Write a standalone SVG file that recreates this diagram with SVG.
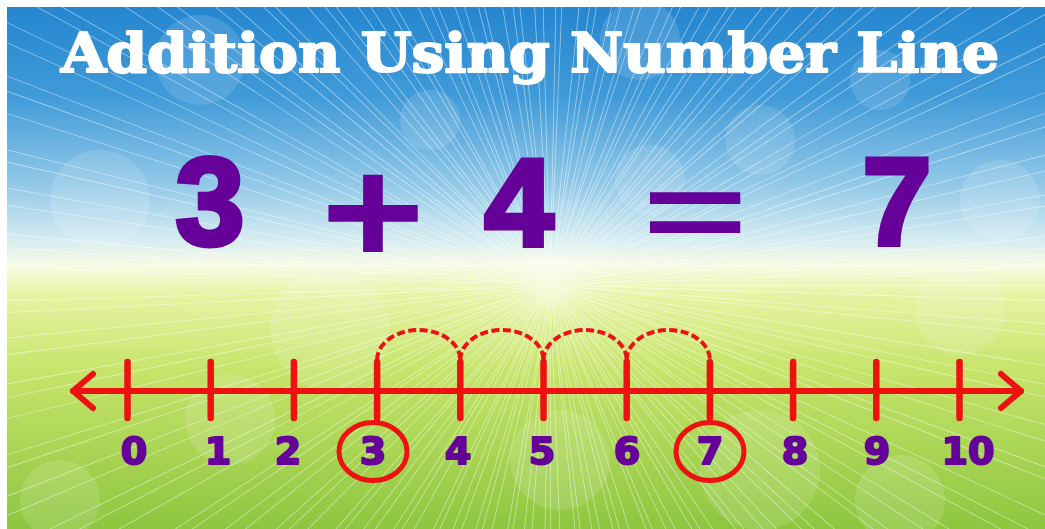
<svg xmlns="http://www.w3.org/2000/svg" width="1045" height="529" viewBox="0 0 1045 529">
<defs>
<linearGradient id="bg" x1="0" y1="0" x2="0" y2="1">
<stop offset="0" stop-color="#2385cf"/>
<stop offset="0.18" stop-color="#3f9ad8"/>
<stop offset="0.35" stop-color="#93c9e8"/>
<stop offset="0.45" stop-color="#d3ebf0"/>
<stop offset="0.5" stop-color="#f7fbe6"/>
<stop offset="0.56" stop-color="#e6f3a2"/>
<stop offset="0.7" stop-color="#c6e46a"/>
<stop offset="1" stop-color="#8dc63f"/>
</linearGradient>
<style>
.num{font-family:"Liberation Sans",Arial,sans-serif;font-weight:bold;fill:#650099;stroke:#650099;stroke-width:5;text-anchor:middle;stroke-linejoin:miter}
.sym{font-family:"Liberation Sans",Arial,sans-serif;font-weight:bold;fill:#650099;stroke:none;text-anchor:middle}
.lab{font-family:"DejaVu Sans",sans-serif;font-weight:bold;font-size:38px;fill:#650099;stroke:#650099;stroke-width:2;stroke-linejoin:round;text-anchor:middle}
.red{stroke:#ee1111;fill:none;stroke-linecap:round;stroke-linejoin:round}
.tick{stroke:#ee1111;stroke-width:6.5;stroke-linecap:round}
.hop{stroke:#ee1111;fill:none;stroke-width:4;stroke-dasharray:8 3.5}
.bok{fill:#ffffff;opacity:0.13}
</style>
</defs>
<g id="background">
<rect x="0" y="0" width="1045" height="529" fill="url(#bg)"/>
<circle cx="550" cy="285" r="320" fill="none" stroke="#ffffff" stroke-opacity="0.5" stroke-width="640" stroke-dasharray="0.8 9 0.8 14 0.8 6 0.8 19 0.8 11 0.8 7 0.8 16"/>
<circle class="bok" cx="200" cy="60" r="45"/>
<circle class="bok" cx="430" cy="120" r="30"/>
<circle class="bok" cx="640" cy="40" r="40"/>
<circle class="bok" cx="760" cy="140" r="35"/>
<circle class="bok" cx="880" cy="80" r="30"/>
<circle class="bok" cx="100" cy="200" r="50"/>
<circle class="bok" cx="330" cy="330" r="60"/>
<circle class="bok" cx="560" cy="460" r="50"/>
<circle class="bok" cx="760" cy="470" r="60"/>
<circle class="bok" cx="960" cy="310" r="45"/>
<circle class="bok" cx="230" cy="420" r="45"/>
<circle class="bok" cx="1000" cy="200" r="40"/>
<circle class="bok" cx="650" cy="180" r="35"/>
<circle class="bok" cx="60" cy="500" r="40"/>
<circle class="bok" cx="900" cy="500" r="45"/>
<rect x="0" y="0" width="1045" height="7" fill="#ffffff"/>
<rect x="0" y="0" width="7" height="529" fill="#ffffff"/>
</g>
<g id="title">
<text x="61" y="72" textLength="938" lengthAdjust="spacingAndGlyphs" font-family="'DejaVu Serif',serif" font-weight="bold" font-size="54" fill="#ffffff" stroke="#ffffff" stroke-width="2" stroke-linejoin="round">Addition Using Number Line</text>
</g>
<g id="equation">
<text class="num" x="210" y="245" font-size="124">3</text>
<text class="sym" transform="translate(373,210) scale(1,0.85)" x="0" y="64" font-size="178">+</text>
<text class="num" x="519" y="245" font-size="124">4</text>
<text class="sym" transform="translate(695,211.5) scale(1,0.6)" x="0" y="61" font-size="180">=</text>
<text class="num" x="897" y="245" font-size="124">7</text>
</g>
<g id="number-line">
<line class="red" x1="73" y1="391" x2="1021" y2="391" stroke-width="6"/>
<polyline class="red" points="93,374 73,391 93,408" stroke-width="6"/>
<polyline class="red" points="1001,374 1021,391 1001,408" stroke-width="6"/>
<g id="ticks">
<line class="tick" x1="127.5" y1="362" x2="127.5" y2="418"/>
<line class="tick" x1="210.7" y1="362" x2="210.7" y2="418"/>
<line class="tick" x1="293.9" y1="362" x2="293.9" y2="418"/>
<line class="tick" x1="377.1" y1="362" x2="377.1" y2="418"/>
<line class="tick" x1="460.3" y1="362" x2="460.3" y2="418"/>
<line class="tick" x1="543.5" y1="362" x2="543.5" y2="418"/>
<line class="tick" x1="626.7" y1="362" x2="626.7" y2="418"/>
<line class="tick" x1="709.9" y1="362" x2="709.9" y2="418"/>
<line class="tick" x1="793.1" y1="362" x2="793.1" y2="418"/>
<line class="tick" x1="876.3" y1="362" x2="876.3" y2="418"/>
<line class="tick" x1="959.5" y1="362" x2="959.5" y2="418"/>
</g>
</g>
<g id="hops">
<path class="hop" d="M377.1,360 A41.6,30 0 0 1 460.3,360"/>
<path class="hop" d="M460.3,360 A41.6,30 0 0 1 543.5,360"/>
<path class="hop" d="M543.5,360 A41.6,30 0 0 1 626.7,360"/>
<path class="hop" d="M626.7,360 A41.6,30 0 0 1 709.9,360"/>
</g>
<g id="labels">
<text class="lab" x="134" y="464">0</text>
<text class="lab" x="218" y="464">1</text>
<text class="lab" x="288" y="464">2</text>
<text class="lab" x="373" y="464">3</text>
<text class="lab" x="458" y="464">4</text>
<text class="lab" x="542" y="464">5</text>
<text class="lab" x="627" y="464">6</text>
<text class="lab" x="710" y="464">7</text>
<text class="lab" x="795" y="464">8</text>
<text class="lab" x="877" y="464">9</text>
<text class="lab" x="968" y="464">10</text>
</g>
<g id="circles">
<ellipse class="red" cx="373" cy="451.5" rx="34" ry="29" stroke-width="5"/>
<ellipse class="red" cx="710" cy="451.5" rx="34" ry="29" stroke-width="5"/>
</g>
</svg>
